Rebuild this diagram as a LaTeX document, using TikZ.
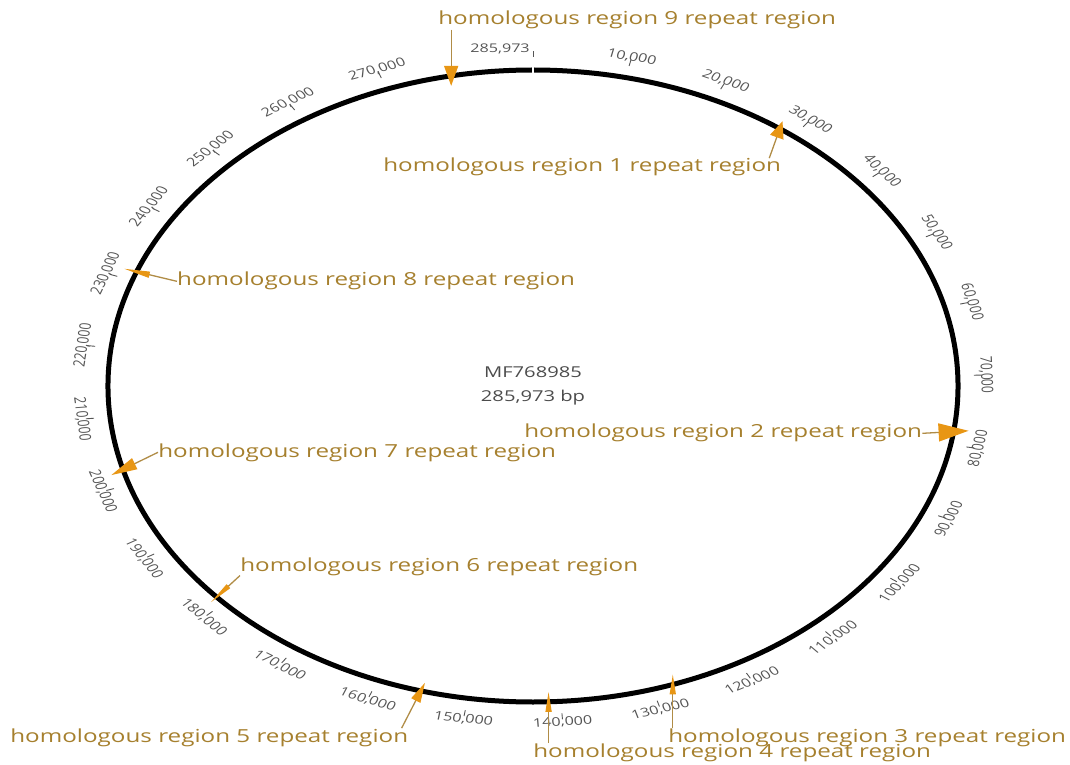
\documentclass[tikz,border=0pt]{standalone}
\usepackage{fontspec}
\setmainfont{Open Sans}
\usetikzlibrary{arrows.meta,calc}
\definecolor{featc}{RGB}{232,150,20}
\definecolor{labc}{RGB}{166,128,46}
\definecolor{leadc}{RGB}{176,140,70}
\definecolor{tickc}{RGB}{85,85,85}
\begin{document}
\begin{tikzpicture}[x=1pt,y=1pt,
  ring/.style={line width=5pt, draw=black},
  ticklabel/.style={font=\fontsize{12}{14}\selectfont, text=tickc, inner sep=0pt},
  tickmark/.style={draw=tickc, line width=0.9pt},
  featlabel/.style={font=\fontsize{18}{21}\selectfont, text=labc, inner sep=0pt, anchor=base west},
  leader/.style n args={3}{draw=leadc, line width=1.3pt, -{Triangle[length=#1pt,width=#2pt,color=featc,fill=featc]}, shorten >=-#3pt},
  centertext/.style={font=\fontsize{15}{18}\selectfont, text=black!70, inner sep=0pt}
]
\useasboundingbox (-533,-379) rectangle (537,386);
\begin{scope}[xscale=1.345, transform shape]
  % ring
  \draw[ring] (0,0) circle (316);
  \draw[white, line width=1.5pt] (90:311) -- (90:321);
  % tick marks and labels
  \draw[tickmark] (90:329) -- (90:335);
  \node[ticklabel] (t0) at (-24.5,337) {285,973};
  \foreach \k in {1,...,27}{
    \pgfmathsetmacro\ang{90-12.5886*\k}
    \pgfmathsetmacro\rot{ifthenelse(and(\k>7,\k<22),\ang+90,\ang-90)}
    \draw[tickmark] (\ang:328) -- (\ang:334);
    \node[ticklabel, rotate=\rot] (t\k) at (\ang:337) {\k0,000};
  }
  % centre
  \node[centertext] (name) at (0,14) {MF768985};
  \node[centertext] (len) at (0,-12) {285,973 bp};
  % feature points
  \coordinate (f9) at (101.1:316);
  \coordinate (f1) at (54.5:316);
  \coordinate (f2) at (-8.3:316);
  \coordinate (f3) at (-70.8:316);
  \coordinate (f4) at (-87.9:316);
  \coordinate (f5) at (-105.3:316);
  \coordinate (f6) at (221.9:316);
  \coordinate (f7) at (195.3:316);
  \coordinate (f8) at (158.8:316);
  % feature labels
  \node[featlabel] (L9) at (-70.6,361) {homologous region 9 repeat region};
  \node[featlabel] (L1) at (-111.5,214) {homologous region 1 repeat region};
  \node[featlabel] (L2) at (-6.7,-52) {homologous region 2 repeat region};
  \node[featlabel] (L8) at (-264.7,100) {homologous region 8 repeat region};
  \node[featlabel] (L7) at (-278.8,-71) {homologous region 7 repeat region};
  \node[featlabel] (L6) at (-217.8,-185) {homologous region 6 repeat region};
  \node[featlabel] (L5) at (-388.8,-356) {homologous region 5 repeat region};
  \node[featlabel] (L4) at (0,-371) {homologous region 4 repeat region};
  \node[featlabel] (L3) at (100.4,-356) {homologous region 3 repeat region};
  % leaders with feature marks
  \draw[leader={20}{14}{10}] (f9 |- L9.south) -- (f9);
  \draw[leader={17}{14}{8}] ($(L1.north east)+(-9,0)$) -- (f1);
  \draw[leader={30}{18}{15}] (L2.east) -- (f2);
  \draw[leader={26}{6}{13}] (L8.west) -- (f8);
  \draw[leader={26}{12}{13}] (L7.west) -- (f7);
  \draw[leader={24}{5}{8}] (L6.south west) -- (f6);
  \draw[leader={20}{10}{9}] ($(L5.north east)+(-5,0)$) -- (f5);
  \draw[leader={20}{6}{10}] (f4 |- L4.north) -- (f4);
  \draw[leader={20}{6}{10}] (f3 |- L3.north) -- (f3);
\end{scope}
\end{tikzpicture}
\end{document}
